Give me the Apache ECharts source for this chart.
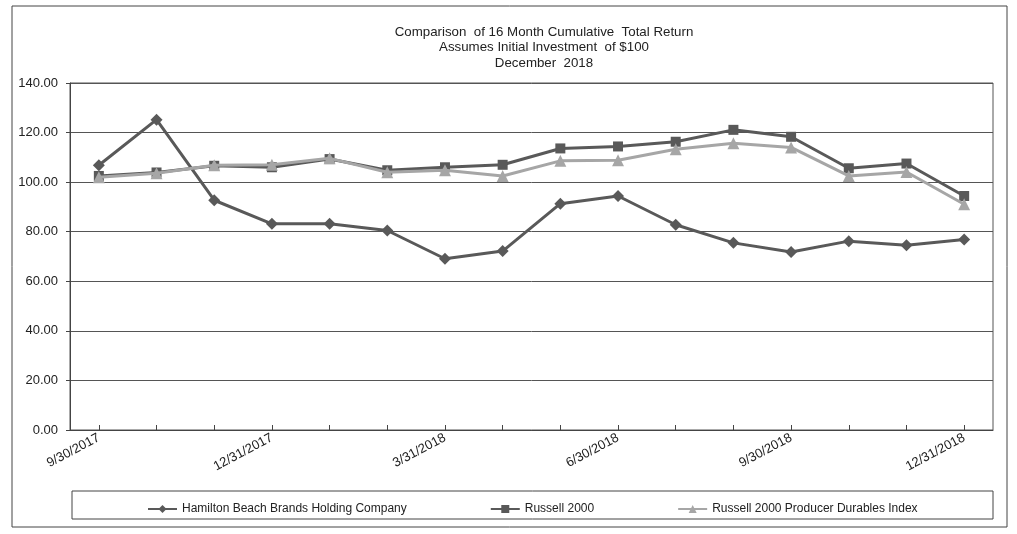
<!DOCTYPE html>
<html>
<head>
<meta charset="utf-8">
<script src="https://cdn.jsdelivr.net/npm/echarts@6/dist/echarts.min.js"></script>
<style>
  html, body { margin: 0; padding: 0; background: #fff; }
  #chart { width: 1017px; height: 534px; }
</style>
</head>
<body>
<div id="chart"></div>
<script>
// month-end dates, one point per month
var categories = ['9/30/2017', '10/31/2017', '11/30/2017', '12/31/2017', '1/31/2018', '2/28/2018',
  '3/31/2018', '4/30/2018', '5/31/2018', '6/30/2018', '7/31/2018', '8/31/2018',
  '9/30/2018', '10/31/2018', '11/30/2018', '12/31/2018'];

var hamilton = [106.8, 125.2, 92.7, 83.2, 83.2, 80.5, 69.1, 72.2, 91.3, 94.4, 82.8, 75.5, 71.8, 76.2, 74.5, 76.9];
var russell = [102.5, 103.9, 106.6, 106.0, 109.3, 104.8, 106.0, 107.0, 113.6, 114.4, 116.3, 121.1, 118.3, 105.6, 107.5, 94.4];
var durables = [102.0, 103.6, 106.8, 107.0, 109.6, 104.0, 104.8, 102.5, 108.6, 108.8, 113.3, 115.7, 114.0, 102.5, 104.1, 91.1];

var seriesNames = ['Hamilton Beach Brands Holding Company', 'Russell 2000', 'Russell 2000 Producer Durables Index'];
var titleLines = ['Comparison  of 16 Month Cumulative  Total Return', 'Assumes Initial Investment  of $100', 'December  2018'];

var FONT = 'Liberation Sans';

var chart = echarts.init(document.getElementById('chart'));

var seriesStyle = [
  { color: '#595959', symbol: 'diamond', size: 12 },
  { color: '#595959', symbol: 'rect', size: 10 },
  { color: '#a6a6a6', symbol: 'triangle', size: 12 }
];
var seriesData = [hamilton, russell, durables];

var series = seriesData.map(function (d, k) {
  var st = seriesStyle[k];
  return {
    name: seriesNames[k],
    type: 'line',
    data: d,
    symbol: st.symbol,
    symbolSize: st.size,
    z: [11, 10, 12][k],
    lineStyle: { color: st.color, width: 3 },
    itemStyle: { color: st.color },
    emphasis: { disabled: true },
    animation: false
  };
});

var option = {
  backgroundColor: '#fff',
  animation: false,
  textStyle: { fontFamily: FONT },
  grid: {
    left: 70, right: 24, top: 83, bottom: 104,
    show: true, borderColor: '#555', borderWidth: 1
  },
  xAxis: {
    type: 'category',
    data: categories,
    boundaryGap: true,
    splitLine: { show: false },
    axisLine: { show: true, lineStyle: { color: '#444', width: 1 } },
    axisTick: { show: true, inside: true, length: 5, alignWithLabel: true, interval: 0, lineStyle: { color: '#444' } },
    axisLabel: {
      interval: 2,
      rotate: 28,
      color: '#222',
      fontSize: 13,
      fontFamily: FONT,
      margin: 7
    }
  },
  yAxis: {
    type: 'value',
    min: 0,
    max: 140,
    interval: 20,
    axisLine: { show: true, onZero: false, lineStyle: { color: '#444' } },
    axisTick: { show: true, length: 4, lineStyle: { color: '#444' } },
    splitLine: { show: true, lineStyle: { color: '#555', width: 1 } },
    axisLabel: {
      color: '#222',
      fontSize: 13,
      fontFamily: FONT,
      margin: 12,
      formatter: function (v) { return v.toFixed(2); }
    }
  },
  legend: {
    left: 142,
    top: 498,
    itemGap: 83,
    itemWidth: 29,
    itemHeight: 10,
    data: seriesNames,
    selectedMode: false,
    textStyle: { color: '#222', fontSize: 12, fontFamily: FONT }
  },
  graphic: [
    {
      type: 'rect',
      shape: { x: 12, y: 6, width: 995, height: 521 },
      style: { fill: null, stroke: '#444', lineWidth: 1 },
      silent: true, z: -1
    },
    {
      type: 'rect',
      shape: { x: 72, y: 491, width: 921, height: 28 },
      style: { fill: null, stroke: '#444', lineWidth: 1 },
      silent: true
    }
  ].concat(titleLines.map(function (t, i) {
    return {
      type: 'text',
      x: 544,
      y: 32 + i * 15.5,
      style: {
        text: t, fill: '#222', font: '13.3px "' + FONT + '"',
        textAlign: 'center', textVerticalAlign: 'middle'
      },
      silent: true
    };
  })),
  series: series
};

chart.setOption(option);
</script>
</body>
</html>
